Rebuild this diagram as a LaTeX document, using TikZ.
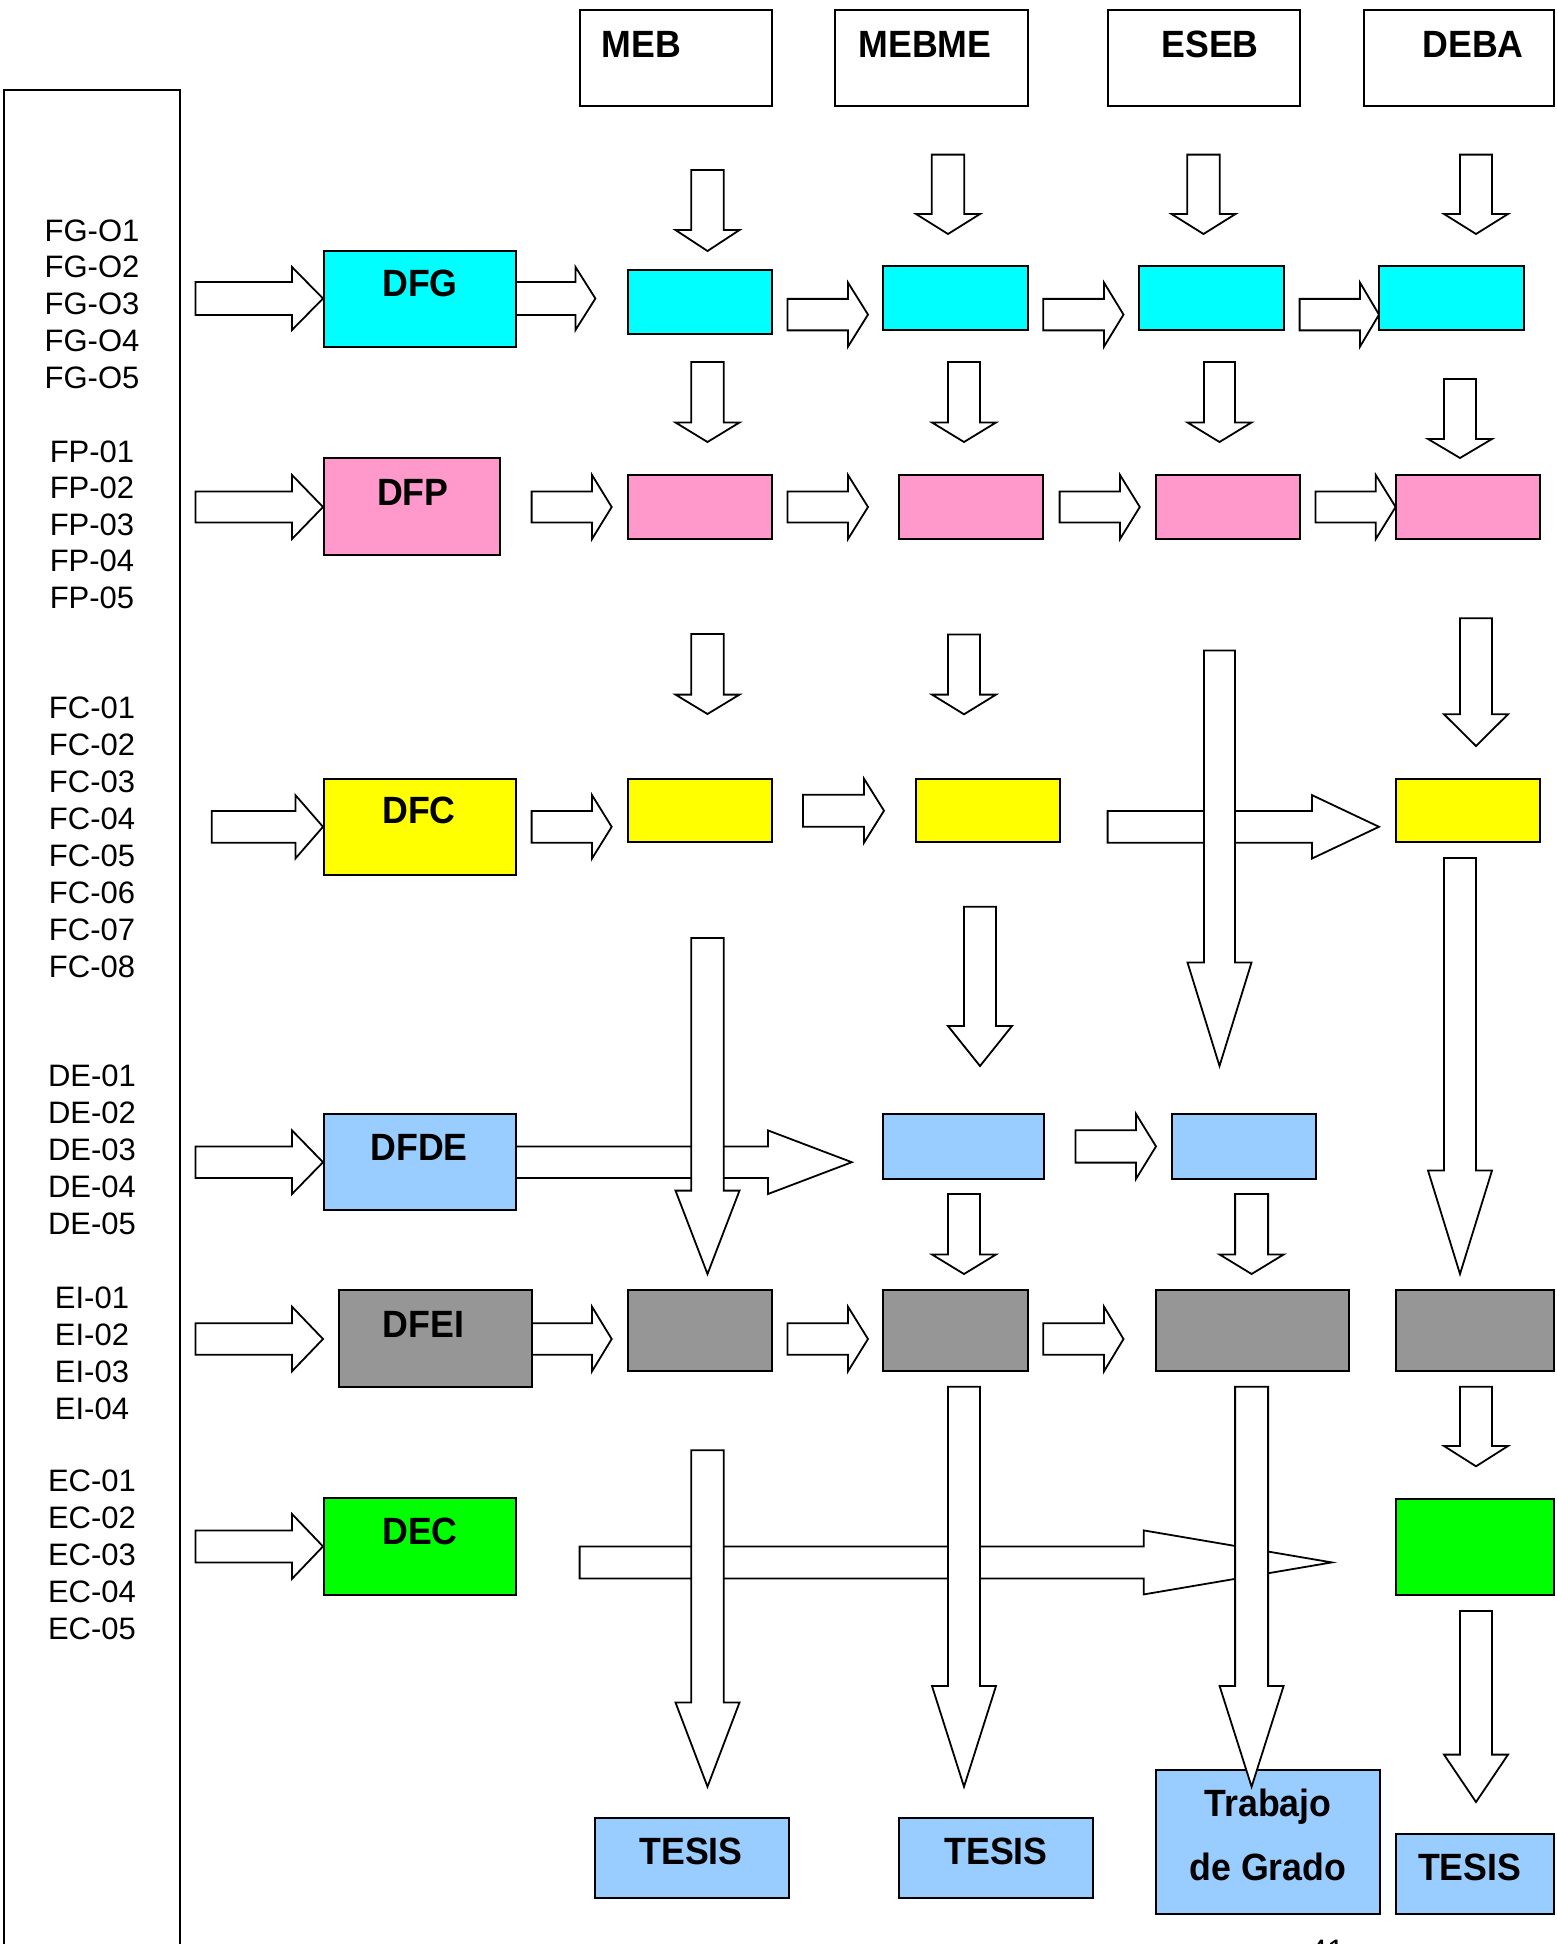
\documentclass[tikz,border=0pt]{standalone}
\usepackage{fontspec}
\setmainfont{Liberation Sans}
\newfontfamily\bfam[FakeStretch=0.94]{Liberation Sans}
\definecolor{cyanb}{HTML}{00FFFF}
\definecolor{pinkb}{HTML}{FF99CC}
\definecolor{yelb}{HTML}{FFFF00}
\definecolor{blueb}{HTML}{99CCFF}
\definecolor{greyb}{HTML}{969696}
\definecolor{greenb}{HTML}{00FF00}
\tikzset{
  boxst/.style={draw=black, line width=2pt, inner sep=0pt, outer sep=0pt, rectangle},
  blockarrow/.style={draw=black, fill=white, line width=1.8pt, line join=miter},
  lbl/.style={anchor=base, inner sep=0pt, font=\fontsize{31}{37}\selectfont},
  hdr/.style={anchor=base, inner sep=0pt, font=\bfam\bfseries\fontsize{38}{44}\selectfont},
}
% box: name, x1, y1, x2, y2, fill
\newcommand\bx[6]{\node[boxst, fill=#6, minimum width={#4pt-#2pt}, minimum height={#5pt-#3pt}] (#1) at ({(#2+#4)/2},{(#3+#5)/2}) {};}
% right arrow: x start, head base x, tip x, centre y, shaft half, head half
\newcommand\rarr[6]{\filldraw[blockarrow] (#1,#4-#5) -- (#2,#4-#5) -- (#2,#4-#6) -- (#3,#4) -- (#2,#4+#6) -- (#2,#4+#5) -- (#1,#4+#5) -- cycle;}
% down arrow: centre x, top y, head base y, tip y, shaft half, head half
\newcommand\darr[6]{\filldraw[blockarrow] (#1-#5,#2) -- (#1+#5,#2) -- (#1+#5,#3) -- (#1+#6,#3) -- (#1,#4) -- (#1-#6,#3) -- (#1-#5,#3) -- cycle;}
\begin{document}
\begin{tikzpicture}[x=1pt,y=-1pt]
\useasboundingbox[fill=white] (0,0) rectangle (1556,1944);
% left column box
\bx{leftcol}{4}{90}{180}{1990}{white}
% header boxes
\bx{hMEB}{580}{10}{772}{106}{white}
\bx{hMEBME}{835.4}{10}{1027.5}{106}{white}
\bx{hESEB}{1107.6}{10}{1300}{106}{white}
\bx{hDEBA}{1363.5}{10}{1554}{106}{white}
% cyan row
\bx{DFG}{323.5}{251}{516}{347}{cyanb}
\bx{c1}{627.6}{270}{772}{334}{cyanb}
\bx{c2}{883.4}{266}{1027.5}{330}{cyanb}
\bx{c3}{1139}{266}{1283.8}{330}{cyanb}
\bx{c4}{1379}{266}{1523.8}{330}{cyanb}
% pink row
\bx{DFP}{323.5}{458}{500}{554.5}{pinkb}
\bx{p1}{627.6}{474.5}{772}{539}{pinkb}
\bx{p2}{899}{474.5}{1043.3}{539}{pinkb}
\bx{p3}{1155.6}{474.5}{1300}{539}{pinkb}
\bx{p4}{1395.6}{474.5}{1540}{539}{pinkb}
% yellow row
\bx{DFC}{323.5}{778.6}{516}{874.5}{yelb}
\bx{y1}{627.6}{778.6}{772}{842.4}{yelb}
\bx{y2}{916}{778.6}{1060}{842.4}{yelb}
\bx{y4}{1395.6}{778.6}{1540}{842.4}{yelb}
% blue row
\bx{DFDE}{323.5}{1114}{516}{1210}{blueb}
\bx{b2}{883.4}{1114}{1043.8}{1179}{blueb}
\bx{b3}{1171.5}{1114}{1316}{1179}{blueb}
% grey row
\bx{DFEI}{339.3}{1289.7}{532}{1386.7}{greyb}
\bx{g1}{627.6}{1289.7}{772}{1370.6}{greyb}
\bx{g2}{883.4}{1289.7}{1028}{1370.6}{greyb}
\bx{g3}{1155.6}{1289.7}{1349}{1370.6}{greyb}
\bx{g4}{1395.6}{1289.7}{1554}{1370.6}{greyb}
% green row
\bx{DEC}{323.5}{1498.4}{516}{1595}{greenb}
\bx{e4}{1395.6}{1498.8}{1554}{1595}{greenb}
% final boxes
\bx{t1}{595.4}{1818.3}{788.8}{1898.4}{blueb}
\bx{t2}{899.3}{1818.3}{1092.8}{1898.4}{blueb}
\bx{t3}{1155.6}{1770.3}{1379.8}{1914.4}{blueb}
\bx{t4}{1395.6}{1834.3}{1554}{1914.4}{blueb}
% horizontal block arrows
\rarr{195.4}{292}{323}{298.5}{16.5}{31.5}
\rarr{516}{575.5}{595.4}{298.5}{16.5}{31.5}
\rarr{787.4}{848}{868}{314.6}{15.75}{32}
\rarr{1043.3}{1104}{1123.5}{314.6}{15.75}{32}
\rarr{1299.6}{1360}{1379}{314.6}{15.75}{32}
\rarr{195.4}{292}{323}{507}{15.5}{32}
\rarr{531.6}{592}{611.7}{507}{15.5}{32}
\rarr{787.4}{848}{868}{507}{15.5}{32}
\rarr{1059.6}{1120}{1139.8}{507}{15.5}{32}
\rarr{1315.5}{1375.8}{1395.6}{507}{15.5}{32}
\rarr{211.7}{295.4}{323}{826.8}{15.9}{31.7}
\rarr{531.6}{592}{611.7}{826.8}{15.9}{31.7}
\rarr{803}{864}{884}{810.7}{16}{32}
\rarr{1107.6}{1312}{1379}{826.8}{15.9}{31.7}
\rarr{195.4}{292}{323}{1162.2}{15.8}{31.8}
\rarr{516}{768}{851.8}{1162.2}{15.8}{31.8}
\rarr{1075.5}{1136}{1156}{1146.4}{16.2}{32.5}
\rarr{195.4}{292}{323}{1339}{15.7}{32.3}
\rarr{532}{592}{611.7}{1339}{15.7}{32.3}
\rarr{787.4}{848}{868}{1339}{15.7}{32.3}
\rarr{1043.3}{1104}{1123.5}{1339}{15.7}{32.3}
\rarr{195.4}{292}{323}{1546.4}{16}{32.4}
\rarr{579.6}{1143.8}{1331.8}{1562.4}{16}{32}
% vertical block arrows
\darr{707.5}{170}{230}{251}{16.25}{32}
\darr{948}{154.6}{214}{234}{16.25}{32}
\darr{1203.5}{154.6}{214}{234}{16.25}{32}
\darr{1476}{154.6}{214}{234}{16}{32}
\darr{707.5}{362}{422.5}{442}{16.25}{32}
\darr{964}{362}{422.5}{442}{16}{32}
\darr{1219.5}{362}{422.5}{442}{15.5}{32}
\darr{1460}{379}{439}{458}{16}{32}
\darr{707.5}{634}{694.6}{714}{16.25}{32}
\darr{964}{634.4}{694.6}{714.3}{16}{32}
\darr{1476}{618.3}{714.3}{746}{16}{32}
\darr{1219.5}{650.4}{962.5}{1066}{15.5}{32}
\darr{707.5}{938}{1190.6}{1274}{16.25}{32}
\darr{980}{906.7}{1026}{1066}{16}{32}
\darr{1460}{858}{1170.5}{1274}{16}{32}
\darr{964}{1194}{1254.5}{1274}{16}{32}
\darr{1251.6}{1194}{1254.5}{1274}{16.5}{32}
\darr{707.5}{1450.3}{1702.5}{1786.7}{16.25}{32}
\darr{964}{1386.7}{1686}{1786.7}{16}{32}
\darr{1251.6}{1386.7}{1686}{1786.7}{16.5}{32}
\darr{1476}{1386.7}{1446}{1466.3}{16}{32}
\darr{1476}{1611}{1754.6}{1802}{16}{32}
% header and box labels (baseline = cap centre + 13.6)
\node[hdr] (lMEB) at (641.5,57.6) {MEB};
\node[hdr] (lMEBME) at (925,57.4) {MEBME};
\node[hdr] (lESEB) at (1210,57.4) {ESEB};
\node[hdr] (lDEBA) at (1473,57.4) {DEBA};
\node[hdr] (lDFG) at (420,296.6) {DFG};
\node[hdr] (lDFP) at (412.8,505) {DFP};
\node[hdr] (lDFC) at (419,823.4) {DFC};
\node[hdr] (lDFDE) at (419,1160.4) {DFDE};
\node[hdr] (lDFEI) at (423.5,1337.6) {DFEI};
\node[hdr] (lDEC) at (420,1544.6) {DEC};
\node[hdr] (lt1) at (691,1864.4) {TESIS};
\node[hdr] (lt2) at (996,1864.4) {TESIS};
\node[hdr] (lt3a) at (1268,1816.6) {Trabajo};
\node[hdr] (lt3b) at (1268,1880.3) {de Grado};
\node[hdr] (lt4) at (1469.7,1880.6) {TESIS};
% left column labels (baseline = cap centre + 11.1)
\foreach \t [count=\i] in {FG-O1,FG-O2,FG-O3,FG-O4,FG-O5}
  \node[lbl] (fg\i) at (92,{241.1+(\i-1)*36.75}) {\t};
\foreach \t [count=\i] in {FP-01,FP-02,FP-03,FP-04,FP-05}
  \node[lbl] (fp\i) at (92,{462.1+(\i-1)*36.5}) {\t};
\foreach \t [count=\i] in {FC-01,FC-02,FC-03,FC-04,FC-05,FC-06,FC-07,FC-08}
  \node[lbl] (fc\i) at (92,{718.1+(\i-1)*37}) {\t};
\foreach \t [count=\i] in {DE-01,DE-02,DE-03,DE-04,DE-05}
  \node[lbl] (de\i) at (92,{1086.6+(\i-1)*37}) {\t};
\foreach \t [count=\i] in {EI-01,EI-02,EI-03,EI-04}
  \node[lbl] (ei\i) at (92,{1308.1+(\i-1)*37}) {\t};
\foreach \t [count=\i] in {EC-01,EC-02,EC-03,EC-04,EC-05}
  \node[lbl] (ec\i) at (92,{1491.8+(\i-1)*37}) {\t};
% page number, cut off by the page edge as in the reference
\node[lbl] (pagenum) at (1327,1961) {41};
\end{tikzpicture}
\end{document}
